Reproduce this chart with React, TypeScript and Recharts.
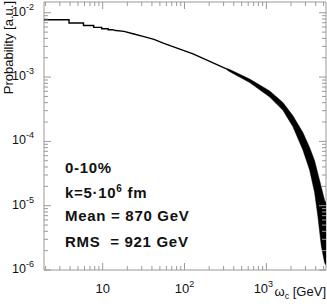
import { ComposedChart, Line, Area, XAxis, YAxis, ReferenceArea } from 'recharts'

const W = 327
const H = 308
const TOP = 2
const RIGHT = 326
const BOTTOM = 270
const axisColor = '#999'
const font = '"Liberation Sans", Arial, Helvetica, sans-serif'

const xMin = 1.92
const xMax = 5350
const yMin = 1e-6
const yMax = 0.0147

// low-energy histogram bins (left edges, GeV) and their content
const stepE = [1.92, 3.88, 5.83, 7.78, 9.73, 11.68, 13.63]
const stepP = [7.78e-3, 6.92e-3, 6.35e-3, 5.92e-3, 5.65e-3, 5.45e-3, 5.45e-3]

// thin part of the spectrum
const curveE = [13.63, 18.2, 24.1, 31.9, 42.3, 56, 127, 325]
const curveP = [5.35e-3, 5.13e-3, 4.68e-3, 4.25e-3, 3.86e-3, 3.35e-3, 2.29e-3, 1.34e-3]

// fluctuating tail, drawn as a band (lower / upper edge)
const bandE = [325, 357, 626, 1097, 1592, 2109, 2793, 3373, 3882, 4258, 4690, 5143, 5350]
const bandLo = [1.307e-3, 1.215e-3, 8.2e-4, 4.9e-4, 3.05e-4, 1.69e-4, 7.35e-5, 3.6e-5, 1.6e-5, 6.8e-6, 2.35e-6, 1.3e-6, 1.2e-6]
const bandHi = [1.373e-3, 1.308e-3, 9.3e-4, 6.1e-4, 4.02e-4, 2.5e-4, 1.37e-4, 8.05e-5, 5.0e-5, 3.15e-5, 1.93e-5, 1.21e-5, 1.1e-5]

const xTicks = [2, 3, 4, 5, 6, 7, 8, 9, 10, 20, 30, 40, 50, 60, 70, 80, 90, 100, 200, 300, 400, 500, 600, 700, 800, 900, 1000, 2000, 3000, 4000, 5000]
const yDecades = [-6, -5, -4, -3]
const mantissas = [1, 2, 3, 4, 5, 6, 7, 8, 9]
const yTicks = [...yDecades.flatMap((d) => mantissas.map((m) => m * Math.pow(10, d))), 1e-2]

type Row = { e: number; step?: number; curve?: number; band?: [number, number] }

function buildRows(): Row[] {
  const byE = new Map<number, Row>()
  const get = (e: number) => {
    if (!byE.has(e)) byE.set(e, { e })
    return byE.get(e) as Row
  }
  stepE.forEach((e, i) => (get(e).step = stepP[i]))
  curveE.forEach((e, i) => (get(e).curve = curveP[i]))
  bandE.forEach((e, i) => (get(e).band = [bandLo[i], bandHi[i]]))
  return [...byE.values()].sort((a, b) => a.e - b.e)
}

const rows = buildRows()

function decade(v: number) {
  const l = Math.log10(v)
  const exp = Math.round(l)
  return { exp, major: Math.abs(l - exp) < 1e-6 }
}

function XTick({ x, payload }: any) {
  const { exp, major } = decade(payload.value)
  const len = major ? 7 : 4
  // the last label is nudged left so it clears the axis title
  const dx = exp === 3 ? -3 : 0
  return (
    <g>
      <line x1={x} x2={x} y1={BOTTOM} y2={BOTTOM - len} stroke={axisColor} />
      <line x1={x} x2={x} y1={TOP} y2={TOP + len} stroke={axisColor} />
      {major && (
        <text x={x + dx} y={293} textAnchor="middle" fontSize={13} fontFamily={font} fill="#111">
          10
          {exp > 1 && (
            <tspan dy={-6} fontSize={9}>
              {exp}
            </tspan>
          )}
        </text>
      )}
    </g>
  )
}

function YTick({ y, payload }: any) {
  const { exp, major } = decade(payload.value)
  const len = major ? 7 : 4
  const left = 44
  return (
    <g>
      <line x1={left} x2={left + len} y1={y} y2={y} stroke={axisColor} />
      <line x1={RIGHT} x2={RIGHT - len} y1={y} y2={y} stroke={axisColor} />
      {major && (
        <text x={34} y={y + 3} textAnchor="end" fontSize={12.5} fontFamily={font} fill="#111">
          10
          <tspan dy={-6} fontSize={9}>
            {exp}
          </tspan>
        </text>
      )}
    </g>
  )
}

function XTitle({ viewBox }: any) {
  const x = viewBox.x + viewBox.width
  const y = viewBox.y + 26
  return (
    <text x={x} y={y} textAnchor="end" fontSize={13} fontFamily={font} fill="#111">
      ω
      <tspan dy={3} fontSize={9}>
        c
      </tspan>
      <tspan dy={-3}> [GeV]</tspan>
    </text>
  )
}

function YTitle() {
  return (
    <text x={13} y={1} transform="rotate(-90, 13, 1)" textAnchor="end" fontSize={13} fontFamily={font} fill="#111">
      Probability [a.u.]
    </text>
  )
}

const noteStyle = { fontFamily: font, fontSize: 15, fontWeight: 700, letterSpacing: 0.7, fill: '#111', whiteSpace: 'pre' as const }

export default function App() {
  return (
    <div style={{ position: 'absolute', left: 0, top: 0, width: W, height: H, background: '#fff' }}>
      <ComposedChart width={W} height={H} data={rows} margin={{ top: TOP, right: W - RIGHT, left: 0, bottom: 0 }}>
        <XAxis
          dataKey="e"
          type="number"
          scale="log"
          domain={[xMin, xMax]}
          allowDataOverflow
          ticks={xTicks}
          interval={0}
          tick={<XTick />}
          tickSize={0}
          tickMargin={0}
          tickLine={false}
          axisLine={false}
          height={H - BOTTOM}
          label={<XTitle />}
        />
        <YAxis
          type="number"
          scale="log"
          domain={[yMin, yMax]}
          allowDataOverflow
          ticks={yTicks}
          interval={0}
          tick={<YTick />}
          tickSize={0}
          tickMargin={0}
          tickLine={false}
          axisLine={false}
          width={44}
          label={<YTitle />}
        />
        <ReferenceArea x1={xMin} x2={xMax} y1={yMin} y2={yMax} fill="none" stroke={axisColor} strokeWidth={1} fillOpacity={0} />
        <Line dataKey="step" type="stepAfter" stroke="#000" strokeWidth={1.4} dot={false} connectNulls isAnimationActive={false} />
        <Line dataKey="curve" type="linear" stroke="#000" strokeWidth={1.4} dot={false} connectNulls isAnimationActive={false} />
        <Area dataKey="band" type="linear" stroke="#000" strokeWidth={0.5} fill="#000" fillOpacity={1} dot={false} connectNulls isAnimationActive={false} />
      </ComposedChart>
      <svg width={W} height={H} style={{ position: 'absolute', left: 0, top: 0, pointerEvents: 'none' }}>
        <text x={65} y={173} style={noteStyle}>
          0-10%
        </text>
        <text x={65} y={197.5} style={noteStyle}>
          k=5·10
          <tspan dy={-6} fontSize={10}>
            6
          </tspan>
          <tspan dy={6}> fm</tspan>
        </text>
        <text x={65} y={221} style={noteStyle}>
          Mean = 870 GeV
        </text>
        <text x={65} y={246.5} style={noteStyle}>
          {'RMS  = 921 GeV'}
        </text>
      </svg>
    </div>
  )
}
